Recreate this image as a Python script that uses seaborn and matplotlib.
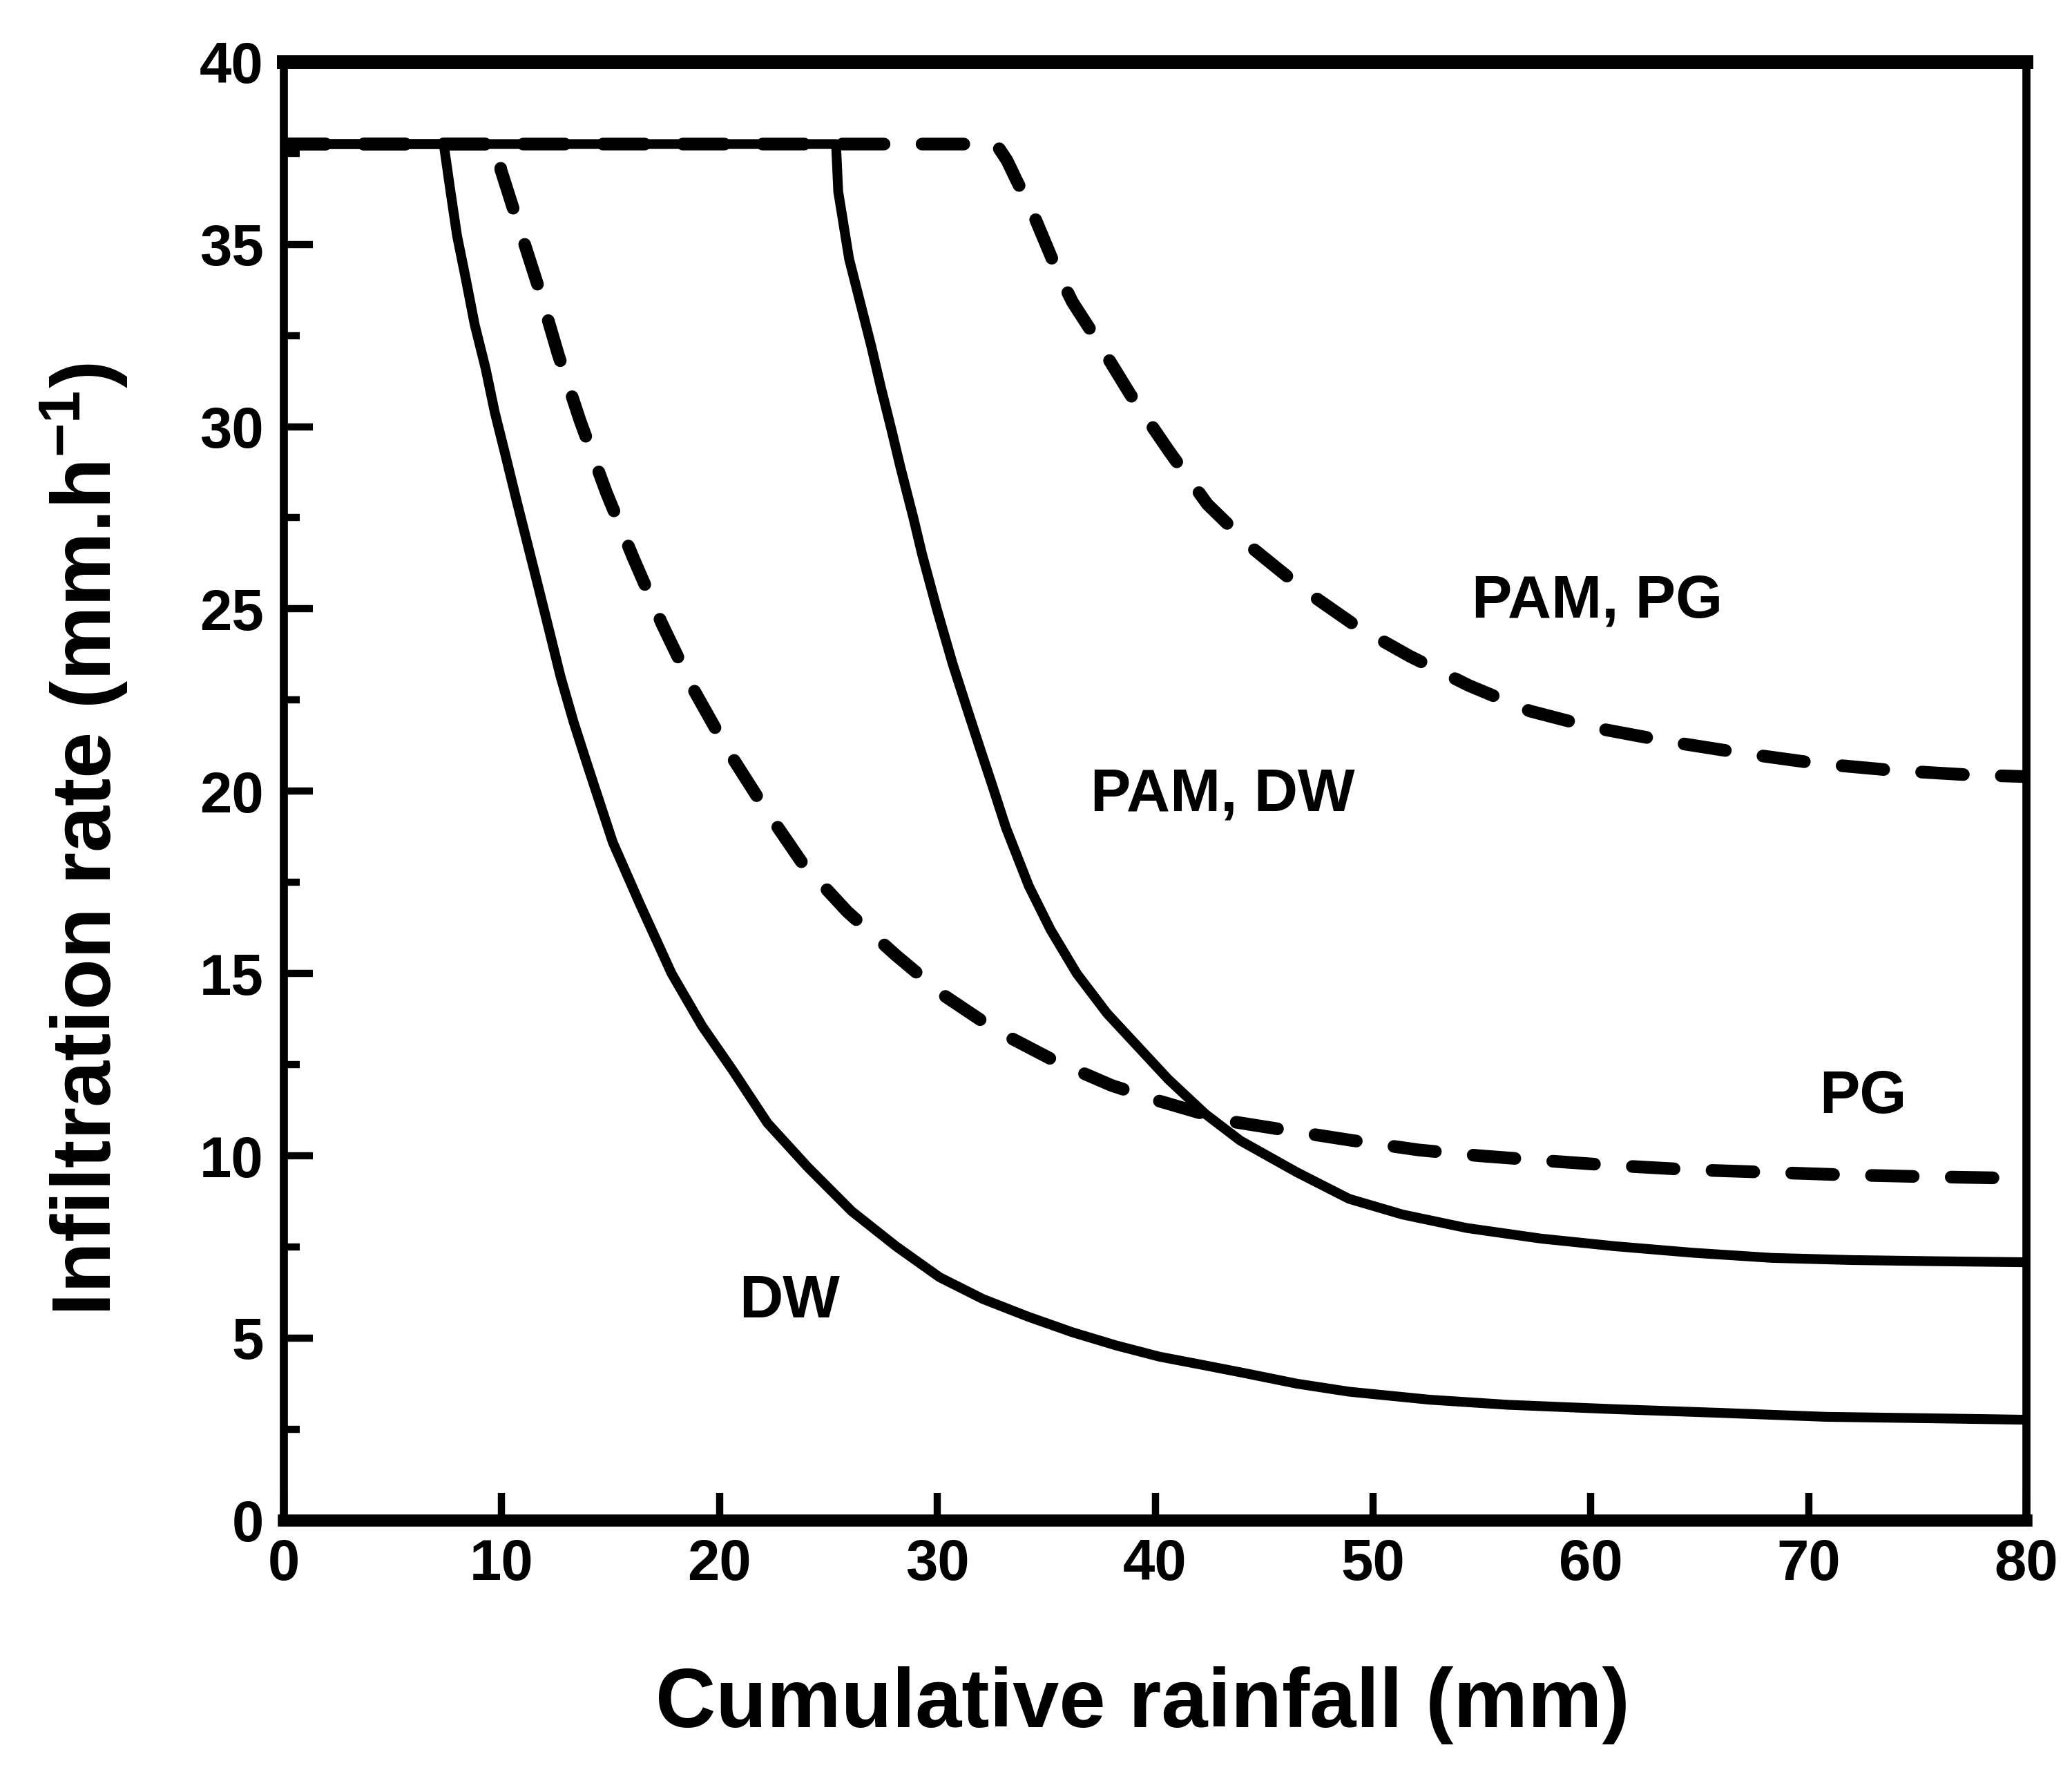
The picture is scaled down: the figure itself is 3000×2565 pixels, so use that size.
import matplotlib
matplotlib.use("Agg")
import matplotlib.pyplot as plt
import seaborn as sns
import pandas as pd

# ---- data ----
dw_x = [0, 7.34, 7.65, 7.95, 8.36, 8.76, 9.26, 9.68, 10.18, 10.68, 11.19, 11.7, 12.2, 12.7,
        13.3, 14.0, 15.1, 16.35, 17.8, 19.2, 20.6, 22.2, 24.05, 26.07, 28.1, 30.1, 32.1,
        34.2, 36.2, 38.2, 40.2, 42.3, 44.1, 46.5, 48.9, 52.6, 56.2, 61.1, 65.9, 70.8, 75.6, 80]
dw_y = [37.75, 37.75, 36.45, 35.24, 34.03, 32.8, 31.6, 30.4, 29.2, 27.98, 26.77, 25.56, 24.36,
        23.15, 21.9, 20.6, 18.6, 16.9, 15.0, 13.56, 12.35, 10.9, 9.69, 8.48, 7.52, 6.67, 6.07,
        5.58, 5.16, 4.8, 4.49, 4.25, 4.04, 3.75, 3.53, 3.31, 3.17, 3.05, 2.95, 2.84, 2.8, 2.76]

pg_x = [0, 9.87, 9.96, 10.68, 11.7, 12.6, 13.6, 14.8, 16.04, 17.35, 18.8, 20.4, 22.0, 23.8,
        25.86, 28.1, 30.3, 32.7, 35.4, 38.0, 40.2, 43.3, 46.25, 49.05, 52.1, 54.9, 57.8,
        60.9, 64.5, 68.0, 71.5, 75.1, 80]
pg_y = [37.75, 37.75, 37.05, 35.7, 33.8, 31.97, 30.16, 28.2, 26.4, 24.6, 22.8, 21.1, 19.6,
        18.03, 16.7, 15.5, 14.4, 13.44, 12.6, 11.93, 11.5, 10.96, 10.68, 10.42, 10.16, 10.0,
        9.87, 9.74, 9.62, 9.55, 9.48, 9.43, 9.38]

pamdw_x = [0, 25.35, 25.45, 25.95, 26.46, 26.97, 27.4, 27.9, 28.3, 28.9, 29.3, 30.0, 30.7,
           31.4, 32.0, 32.5, 33.15, 34.2, 35.2, 36.4, 37.8, 39.2, 40.6, 42.3, 43.9, 46.5,
           48.9, 51.35, 54.3, 57.7, 61.1, 64.7, 68.3, 72.0, 75.6, 80]
pamdw_y = [37.75, 37.75, 36.45, 34.6, 33.4, 32.2, 31.1, 29.9, 28.9, 27.5, 26.5, 24.95, 23.5,
           22.2, 21.1, 20.2, 19.0, 17.4, 16.2, 15.0, 13.9, 13.0, 12.1, 11.15, 10.42, 9.55,
           8.82, 8.39, 8.02, 7.73, 7.52, 7.34, 7.2, 7.14, 7.11, 7.08]

pampg_x = [0, 32.7, 33.2, 33.6, 34.4, 35.5, 36.2, 37.25, 38.86, 40.67, 42.4, 44.5, 46.75,
           49.2, 51.7, 54.4, 57.2, 60.1, 63.5, 67.0, 70.4, 73.9, 77.3, 80]
pampg_y = [37.75, 37.75, 37.3, 36.8, 35.84, 34.27, 33.42, 32.45, 30.88, 29.3, 27.87, 26.65,
           25.56, 24.54, 23.7, 22.9, 22.2, 21.75, 21.37, 21.04, 20.76, 20.57, 20.45, 20.4]

labels = ["DW", "PG", "PAM, DW", "PAM, PG"]
label_x = [23.2, 72.5, 43.1, 60.3]
label_y = [6.0, 11.6, 19.9, 25.2]

x_ticks = [0, 10, 20, 30, 40, 50, 60, 70, 80]
y_ticks = [0, 5, 10, 15, 20, 25, 30, 35, 40]
y_minor = [2.5, 7.5, 12.5, 17.5, 22.5, 27.5, 32.5, 37.5]

# ---- style ----
sns.set_theme(style="white")
plt.rcParams["font.family"] = ["Liberation Sans", "DejaVu Sans"]
plt.rcParams["font.weight"] = "bold"
plt.rcParams["text.color"] = "black"
plt.rcParams["axes.labelcolor"] = "black"
plt.rcParams["xtick.color"] = "black"
plt.rcParams["ytick.color"] = "black"
plt.rcParams["mathtext.fontset"] = "custom"
plt.rcParams["mathtext.rm"] = "Liberation Sans:bold"
plt.rcParams["mathtext.bf"] = "Liberation Sans:bold"
plt.rcParams["mathtext.default"] = "bf"

fig = plt.figure(figsize=(10, 8.55), dpi=300)
ax = fig.add_axes([0.137, 0.142, 0.841, 0.823])

solid_lw = 3.4
dash_lw = 4.4

curves = [
    (dw_x, dw_y, "-", solid_lw),
    (pamdw_x, pamdw_y, "-", solid_lw),
    (pg_x, pg_y, "--", dash_lw),
    (pampg_x, pampg_y, "--", dash_lw),
]
for xs, ys, ls, lw in curves:
    df = pd.DataFrame({"x": xs, "y": ys})
    sns.lineplot(data=df, x="x", y="y", ax=ax, color="black", linewidth=lw,
                 sort=False, estimator=None)
    line = ax.lines[-1]
    line.set_solid_joinstyle("round")
    line.set_dash_joinstyle("round")
    if ls == "--":
        line.set_dashes((3.3, 3.0))
        line.set_dash_capstyle("round")
    line.set_solid_capstyle("butt")

for t, lx, ly in zip(labels, label_x, label_y):
    ax.text(lx, ly, t, ha="center", va="center", fontsize=21, fontweight="bold",
            color="black")

ax.set_xlim(0, 80)
ax.set_ylim(0, 40)
ax.set_xticks(x_ticks)
ax.set_yticks(y_ticks)
ax.set_yticks(y_minor, minor=True)
ax.set_xticklabels([str(v) for v in x_ticks], fontsize=20, fontweight="bold")
ax.set_yticklabels([str(v) for v in y_ticks], fontsize=20, fontweight="bold")

ax.tick_params(axis="x", which="major", direction="in", length=9.5, width=2.5, pad=6,
               bottom=True, top=False)
ax.tick_params(axis="y", which="major", direction="in", length=10, width=2.5, pad=7,
               left=True, right=False)
ax.tick_params(axis="y", which="minor", direction="in", length=5.5, width=2.5,
               left=True, right=False)

for side in ["left", "right", "top", "bottom"]:
    ax.spines[side].set_visible(True)
    ax.spines[side].set_color("black")
    ax.spines[side].set_linewidth(2.8)
ax.spines["top"].set_linewidth(4.8)
ax.spines["bottom"].set_linewidth(4.2)

ax.set_xlabel("Cumulative rainfall (mm)", fontsize=29, fontweight="bold")
ax.set_ylabel(r"Infiltration rate (mm.h$^{-1}$)", fontsize=29, fontweight="bold")
ax.xaxis.set_label_coords(0.493, -0.100)
ax.yaxis.set_label_coords(-0.088, 0.467)

ax.set_facecolor("white")
fig.patch.set_facecolor("white")
fig.savefig("out.png", dpi=300, facecolor="white")
